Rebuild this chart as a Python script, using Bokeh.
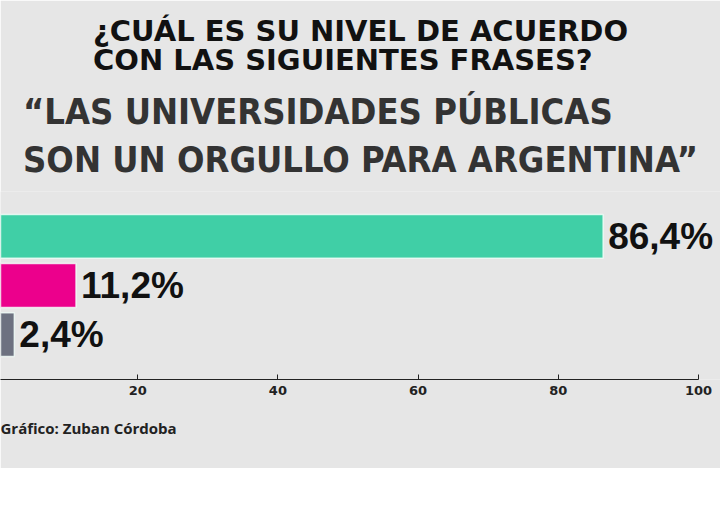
from bokeh.plotting import figure
from bokeh.models import FactorRange, Range1d, FixedTicker, Title, ColumnDataSource
from bokeh.core.properties import value
from bokeh.embed import file_html
from bokeh.resources import INLINE

categories = ["De acuerdo", "En desacuerdo", "Ns/Nc"]
values = [86.4, 11.2, 2.4]
value_labels = ["86,4%", "11,2%", "2,4%"]
bar_colors = ["#40cfa6", "#ec008c", "#6d7180"]
tick_values = [0, 20, 40, 60, 80, 100]
title_question = "¿CUÁL ES SU NIVEL DE ACUERDO\nCON LAS SIGUIENTES FRASES?"
title_phrase = "“LAS UNIVERSIDADES PÚBLICAS\nSON UN ORGULLO PARA ARGENTINA”"
source_note = "Gráfico: Zuban Córdoba"

src = ColumnDataSource(dict(cat=categories, val=values, label=value_labels, color=bar_colors))

BG = "#e6e6e6"
p = figure(width=720, height=468, output_backend="svg", toolbar_location=None,
           y_range=FactorRange(factors=categories[::-1], range_padding=0.41,
                               range_padding_units="absolute"),
           x_range=Range1d(0.428, 103.14), y_axis_location=None,
           min_border_left=0, min_border_right=0, min_border_top=191, min_border_bottom=89)
p.background_fill_color = BG
p.border_fill_color = BG
p.outline_line_color = None
p.xgrid.grid_line_color = None
p.ygrid.grid_line_color = None

p.hbar(y="cat", left=0, right="val", height=0.89, fill_color="color",
       line_color="#f4fffa", line_alpha=0.8, line_width=1.5, source=src)
p.text(x="val", y="cat", text="label", x_offset=5, text_baseline="middle",
       text_font=value("Liberation Sans"), text_font_style="bold", text_font_size="37px",
       text_color="#111111", source=src)

ax = p.xaxis[0]
ax.ticker = FixedTicker(ticks=tick_values)
ax.bounds = (0, 100)
ax.major_tick_in = 5
ax.major_tick_out = 0
ax.minor_tick_line_color = None
ax.axis_line_color = "#222222"
ax.major_tick_line_color = "#222222"
ax.major_label_text_font = "DejaVu Sans"
ax.major_label_text_font_style = "bold"
ax.major_label_text_font_size = "13px"
ax.major_label_text_color = "#222222"
ax.major_label_standoff = 6

t_phrase = Title(text=title_phrase, align="center", text_font="DejaVu Sans Condensed",
                 text_font_size="36px", text_font_style="bold", text_color="#333333",
                 text_line_height=1.18, standoff=23)
t_question = Title(text=title_question, align="center", text_font="DejaVu Sans",
                   text_font_size="29px", text_font_style="bold", text_color="#111111",
                   text_line_height=0.88, standoff=0)
p.add_layout(t_phrase, "above")
p.add_layout(t_question, "above")

t_source = Title(text=source_note, align="left", text_font="Open Sans",
                 text_font_size="15px", text_font_style="bold", text_color="#222222",
                 standoff=37)
p.add_layout(t_source, "below")

open("out.html", "w").write(file_html(p, INLINE))
